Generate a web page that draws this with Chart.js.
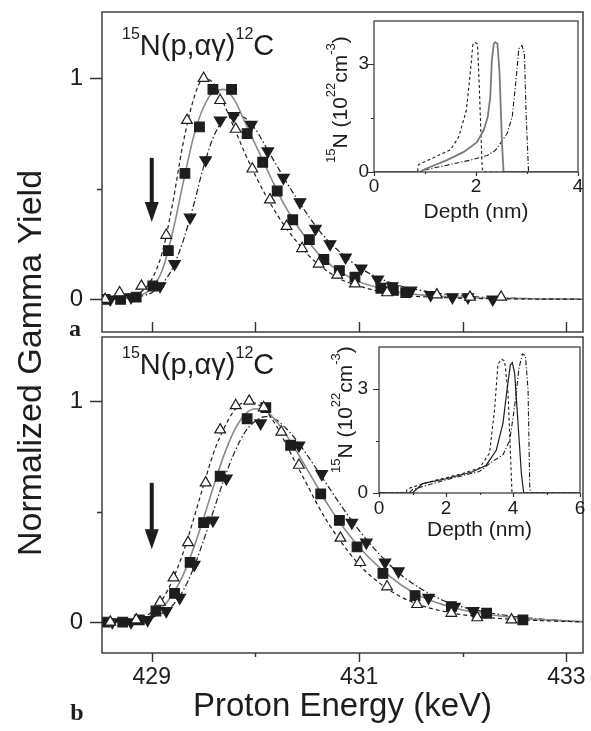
<!DOCTYPE html>
<html>
<head>
<meta charset="utf-8">
<title>15N(p,αγ)12C gamma yield</title>
<script src="https://cdn.jsdelivr.net/npm/chart.js@4.4.1/dist/chart.umd.min.js"></script>
<style>
  html, body { margin: 0; background: #fff; }
  #wrap { position: relative; width: 591px; height: 731px; }
  #wrap canvas { position: absolute; left: 0; top: 0; }
</style>
</head>
<body>
<div id="wrap">
  <canvas id="panelB" width="591" height="731"></canvas>
  <canvas id="panelA" width="591" height="731"></canvas>
  <canvas id="insetA" width="591" height="731"></canvas>
  <canvas id="insetB" width="591" height="731"></canvas>
</div>
<script>
// ---- values ----

// proton energy grid of the fitted curves (keV)
const fitX = [428.5, 428.7, 428.8, 428.9, 429.0, 429.1, 429.2, 429.3, 429.4, 429.5, 429.6, 429.7, 429.8, 429.9, 430.0, 430.1,
  430.2, 430.3, 430.4, 430.5, 430.6, 430.7, 430.8, 431.0, 431.2, 431.4, 431.6, 431.8, 432.0, 432.5, 433.2];

// panel a : fitted curves
const fitDashA = [0, 0.005, 0.015, 0.035, 0.09, 0.21, 0.43, 0.70, 0.90, 1.0, 0.975, 0.88, 0.77, 0.66, 0.56, 0.47,
  0.39, 0.32, 0.26, 0.205, 0.16, 0.125, 0.095, 0.06, 0.035, 0.02, 0.012, 0.008, 0.005, 0.002, 0];
const fitSolidA = [0, 0.003, 0.008, 0.02, 0.05, 0.13, 0.30, 0.52, 0.73, 0.87, 0.94, 0.95, 0.90, 0.80, 0.70, 0.60,
  0.50, 0.41, 0.335, 0.27, 0.21, 0.165, 0.13, 0.08, 0.05, 0.03, 0.02, 0.013, 0.008, 0.003, 0];
const fitDotA = [0, 0.003, 0.007, 0.015, 0.03, 0.07, 0.14, 0.26, 0.42, 0.60, 0.74, 0.815, 0.835, 0.82, 0.77, 0.69,
  0.61, 0.53, 0.455, 0.385, 0.32, 0.265, 0.22, 0.145, 0.095, 0.06, 0.04, 0.025, 0.015, 0.005, 0];

// panel a : measured points
const triAX = [428.55, 428.69, 428.9, 429.14, 429.34, 429.50, 429.66, 429.81, 429.97, 430.14, 430.30, 430.45, 430.61, 430.79, 430.96, 431.27, 431.75, 432.07, 432.37];
const triAY = [0.0, 0.03, 0.06, 0.29, 0.81, 1.0, 0.90, 0.77, 0.59, 0.45, 0.33, 0.23, 0.16, 0.11, 0.07, 0.03, 0.02, 0.01, 0.01];
const sqAX = [428.55, 428.7, 428.85, 429.01, 429.16, 429.32, 429.46, 429.59, 429.77, 429.92, 430.07, 430.21, 430.36, 430.52, 430.66, 430.81, 430.96, 431.21, 431.33, 431.45];
const sqAY = [0.0, 0.0, 0.01, 0.06, 0.22, 0.57, 0.78, 0.95, 0.95, 0.75, 0.62, 0.49, 0.36, 0.27, 0.18, 0.13, 0.10, 0.05, 0.04, 0.03];
const dnAX = [428.6, 428.8, 429.08, 429.22, 429.37, 429.52, 429.66, 429.79, 429.96, 430.12, 430.27, 430.43, 430.58, 430.72, 430.87, 431.02, 431.18, 431.32, 431.5, 431.69, 431.9, 432.05, 432.29];
const dnAY = [0.0, 0.01, 0.06, 0.16, 0.37, 0.63, 0.81, 0.83, 0.79, 0.67, 0.55, 0.44, 0.32, 0.25, 0.19, 0.14, 0.09, 0.06, 0.04, 0.02, 0.01, 0.01, 0.0];

// panel b : fitted curves
const fitDashB = [0, 0.005, 0.01, 0.02, 0.045, 0.10, 0.19, 0.31, 0.46, 0.62, 0.77, 0.88, 0.96, 0.995, 0.99, 0.955,
  0.89, 0.80, 0.71, 0.62, 0.53, 0.45, 0.38, 0.26, 0.175, 0.115, 0.075, 0.05, 0.033, 0.012, 0];
const fitSolidB = [0, 0.003, 0.007, 0.013, 0.03, 0.065, 0.125, 0.21, 0.33, 0.47, 0.62, 0.76, 0.87, 0.94, 0.965, 0.955,
  0.91, 0.845, 0.77, 0.69, 0.61, 0.53, 0.46, 0.34, 0.245, 0.17, 0.115, 0.08, 0.055, 0.02, 0];
const fitDotB = [0, 0.002, 0.005, 0.01, 0.02, 0.04, 0.075, 0.14, 0.24, 0.37, 0.51, 0.65, 0.77, 0.86, 0.91, 0.93,
  0.915, 0.875, 0.82, 0.755, 0.685, 0.615, 0.545, 0.415, 0.305, 0.215, 0.15, 0.10, 0.068, 0.025, 0];

// panel b : measured points
const triBX = [428.6, 428.85, 429.08, 429.21, 429.35, 429.52, 429.66, 429.81, 429.94, 430.08, 430.25, 430.42, 430.82, 431.01, 431.27, 431.56, 431.89, 432.14, 432.47];
const triBY = [0.0, 0.01, 0.09, 0.20, 0.36, 0.63, 0.87, 0.98, 1.0, 0.97, 0.86, 0.71, 0.38, 0.27, 0.16, 0.08, 0.04, 0.02, 0.01];
const sqBX = [428.55, 428.72, 428.88, 429.04, 429.22, 429.37, 429.50, 429.66, 429.92, 430.10, 430.34, 430.63, 430.81, 430.98, 431.23, 431.54, 431.89, 432.23, 432.58];
const sqBY = [0.0, 0.0, 0.01, 0.05, 0.13, 0.27, 0.45, 0.66, 0.92, 0.97, 0.80, 0.58, 0.46, 0.34, 0.22, 0.12, 0.07, 0.04, 0.01];
const dnBX = [428.62, 428.8, 428.96, 429.14, 429.27, 429.41, 429.59, 429.72, 430.05, 430.42, 430.64, 430.93, 431.07, 431.25, 431.38, 431.67, 431.92, 432.1];
const dnBY = [0.0, 0.0, 0.01, 0.05, 0.11, 0.26, 0.46, 0.65, 0.90, 0.80, 0.67, 0.45, 0.36, 0.27, 0.23, 0.11, 0.07, 0.05];

// inset a : 15N depth profiles (depth nm, 10^22 cm^-3)
const inASolidX = [0, 0.9, 1.0, 1.1, 1.43, 1.76, 2.02, 2.15, 2.23, 2.28, 2.31, 2.35, 2.38, 2.42, 2.46, 2.51, 2.54, 4.0];
const inASolidY = [0, 0, 0.08, 0.14, 0.33, 0.56, 0.83, 1.16, 1.53, 2.08, 3.10, 3.57, 3.61, 3.57, 2.8, 0.79, 0, 0];
const inADashX = [0, 0.85, 0.88, 1.20, 1.50, 1.66, 1.81, 1.88, 1.94, 1.99, 2.03, 2.07, 2.12, 2.14, 4.0];
const inADashY = [0, 0, 0.21, 0.42, 0.62, 0.97, 1.71, 2.64, 3.56, 3.60, 3.56, 2.17, 0.13, 0, 0];
const inADotX = [0, 0.9, 0.97, 1.43, 1.89, 2.22, 2.38, 2.61, 2.71, 2.79, 2.84, 2.90, 2.95, 2.98, 3.03, 4.0];
const inADotY = [0, 0, 0.05, 0.19, 0.33, 0.46, 0.60, 1.07, 1.53, 2.64, 3.43, 3.52, 3.29, 1.71, 0, 0];

// inset b
const inBSolidX = [0, 1.0, 1.3, 2.0, 2.8, 3.2, 3.5, 3.7, 3.82, 3.92, 3.98, 4.05, 4.15, 4.25, 4.32, 6];
const inBSolidY = [0, 0, 0.27, 0.41, 0.61, 0.80, 1.23, 2.0, 2.96, 3.68, 3.75, 3.44, 2.0, 0.56, 0, 0];
const inBDashX = [0, 0.8, 0.85, 1.5, 2.5, 3.0, 3.3, 3.45, 3.55, 3.65, 3.75, 3.85, 3.93, 3.97, 6];
const inBDashY = [0, 0, 0.12, 0.32, 0.56, 0.72, 1.15, 2.4, 3.7, 3.85, 3.8, 2.9, 1.0, 0, 0];
const inBDotX = [0, 0.9, 1.0, 2.0, 3.0, 3.3, 3.7, 3.9, 4.05, 4.18, 4.28, 4.37, 4.45, 4.5, 4.52, 6];
const inBDotY = [0, 0, 0.1, 0.38, 0.62, 0.85, 1.1, 1.5, 2.5, 3.6, 4.0, 3.96, 2.96, 0.17, 0, 0];

// ticks
const energyTicks = [429, 430, 431, 432, 433];
const energyText = ['429', '', '431', '', '433'];
const yieldTicks = [0, 0.5, 1];
const yieldText = ['0', '', '1'];
const depthTicksA = [0, 1, 2, 3, 4];
const depthTextA = ['0', '', '2', '', '4'];
const depthTicksB = [0, 1, 2, 3, 4, 5, 6];
const depthTextB = ['0', '', '2', '', '4', '', '6'];
const densTicks = [0, 1.5, 3];
const densText = ['0', '', '3'];

// ---- drawing ----
const FONT = '"Liberation Sans", Arial, Helvetica, sans-serif';
const SERIF = '"Liberation Serif", "DejaVu Serif", serif';
const INK = '#1d1d1d';

const pts = (xs, ys) => xs.map((x, i) => ({ x: x, y: ys[i] }));
// fixed axis sizes; drop the label overhang padding so the plot box lands where it should
const fixWidth = w => s => { s.width = w; s.paddingTop = 0; s.paddingBottom = 0; };
const fixHeight = h => s => { s.height = h; s.paddingLeft = 0; s.paddingRight = 0; };
const setTicks = vals => s => { s.ticks = vals.map(v => ({ value: v })); };

function drawRich(ctx, t) {
  ctx.save();
  ctx.translate(t.x, t.y);
  if (t.rot) ctx.rotate(t.rot);
  ctx.fillStyle = INK;
  ctx.textBaseline = 'alphabetic';
  ctx.textAlign = 'left';
  const font = sup => (t.weight || 'normal') + ' ' + (sup ? t.sup : t.size) + 'px ' + (t.family || FONT);
  let total = 0;
  t.parts.forEach(p => { ctx.font = font(p[1]); total += ctx.measureText(p[0]).width; });
  let cx = t.align === 'center' ? -total / 2 : 0;
  t.parts.forEach(p => {
    ctx.font = font(p[1]);
    ctx.fillText(p[0], cx, p[1] ? -t.size * 0.55 : 0);
    cx += ctx.measureText(p[0]).width;
  });
  ctx.restore();
}

// frame box + hand drawn tick marks (len > 0 outward, < 0 inward)
function framePlugin(o) {
  return {
    id: 'frame',
    afterDatasetsDraw(chart) {
      const { ctx, chartArea: a } = chart;
      const { x, y } = chart.scales;
      ctx.save();
      ctx.strokeStyle = '#333';
      ctx.lineWidth = o.width;
      ctx.strokeRect(a.left, a.top, a.right - a.left, a.bottom - a.top);
      ctx.beginPath();
      x.ticks.forEach(t => {
        const len = t.label !== '' ? o.xLen[0] : o.xLen[1];
        const px = Math.round(x.getPixelForValue(t.value)) + 0.5;
        ctx.moveTo(px, a.bottom);
        ctx.lineTo(px, a.bottom + len);
      });
      y.ticks.forEach(t => {
        const len = t.label !== '' ? o.yLen[0] : o.yLen[1];
        const py = Math.round(y.getPixelForValue(t.value)) + 0.5;
        ctx.moveTo(a.left, py);
        ctx.lineTo(a.left - len, py);
      });
      ctx.stroke();
      ctx.restore();
    }
  };
}

function notesPlugin(texts, arrow) {
  return {
    id: 'notes',
    afterDraw(chart) {
      const ctx = chart.ctx;
      texts.forEach(t => drawRich(ctx, t));
      if (!arrow) return;
      const { x, y } = chart.scales;
      const px = x.getPixelForValue(arrow.x);
      const top = y.getPixelForValue(arrow.from);
      const tip = y.getPixelForValue(arrow.to);
      ctx.save();
      ctx.fillStyle = INK;
      ctx.fillRect(px - 2, top, 4, tip - top - 18);
      ctx.beginPath();
      ctx.moveTo(px - 7, tip - 20);
      ctx.lineTo(px + 7, tip - 20);
      ctx.lineTo(px, tip);
      ctx.closePath();
      ctx.fill();
      ctx.restore();
    }
  };
}

function fitLine(xs, ys, style) {
  return Object.assign({
    data: pts(xs, ys), showLine: true, pointRadius: 0, fill: false,
    cubicInterpolationMode: 'monotone', borderColor: INK, borderWidth: 1.2
  }, style);
}

function markers(xs, ys, style) {
  return Object.assign({
    data: pts(xs, ys), showLine: false, pointRadius: 6,
    pointBorderColor: INK, pointBorderWidth: 1.2
  }, style);
}

const titleParts = [['15', true], ['N(p,αγ)', false], ['12', true], ['C', false]];
const densParts = [['15', true], ['N (10', false], ['22', true], ['cm', false], ['-3', true], [')', false]];

function mainPanel(id, o) {
  return new Chart(document.getElementById(id), {
    type: 'scatter',
    data: {
      datasets: [
        markers(o.triX, o.triY, { pointStyle: 'triangle', pointRadius: 6.2, pointBackgroundColor: '#fff' }),
        markers(o.sqX, o.sqY, { pointStyle: 'rect', pointRadius: 6.8, pointBackgroundColor: INK }),
        markers(o.dnX, o.dnY, { pointStyle: 'triangle', pointRotation: 180, pointRadius: 6.6, pointBackgroundColor: INK }),
        fitLine(fitX, o.dash, { borderDash: [4, 3] }),
        fitLine(fitX, o.solid, { borderColor: '#8a8a8a', borderWidth: 1.6 }),
        fitLine(fitX, o.dot, { borderDash: [6, 2.5, 1.5, 2.5] })
      ]
    },
    options: {
      responsive: false,
      animation: false,
      events: [],
      layout: { padding: o.pad },
      plugins: { legend: { display: false }, tooltip: { enabled: false } },
      scales: {
        x: {
          type: 'linear', min: 428.52, max: 433.16,
          afterFit: fixHeight(o.xHeight),
          afterBuildTicks: setTicks(energyTicks),
          grid: { display: false, drawTicks: false }, border: { display: false },
          ticks: {
            display: o.xLabels, autoSkip: false, maxRotation: 0,
            callback: (v, i) => energyText[i],
            font: { family: FONT, size: 23 }, color: INK, padding: 11
          },
          title: {
            display: o.xLabels, text: 'Proton Energy (keV)',
            font: { family: FONT, size: 33 }, color: INK, padding: { top: 0, bottom: 4 }
          }
        },
        y: {
          type: 'linear', min: o.yMin, max: o.yMax,
          afterFit: fixWidth(102),
          afterBuildTicks: setTicks(yieldTicks),
          grid: { display: false, drawTicks: false }, border: { display: false },
          ticks: {
            autoSkip: false, callback: (v, i) => yieldText[i],
            font: { family: FONT, size: 24 }, color: INK, padding: 19
          }
        }
      }
    },
    plugins: [framePlugin({ width: 1.4, xLen: o.xLen, yLen: [12, 5] }), notesPlugin(o.texts, o.arrow)]
  });
}

function insetPanel(id, o) {
  const line = (xs, ys, style) => Object.assign({
    data: pts(xs, ys), showLine: true, pointRadius: 0, fill: false, tension: 0,
    borderColor: INK, borderWidth: 1.1
  }, style);
  return new Chart(document.getElementById(id), {
    type: 'scatter',
    data: {
      datasets: [
        line(o.solidX, o.solidY, { borderColor: o.solidColor, borderWidth: o.solidWidth }),
        line(o.dashX, o.dashY, { borderDash: [3, 2.5] }),
        line(o.dotX, o.dotY, { borderDash: [5, 2, 1.2, 2] })
      ]
    },
    options: {
      responsive: false,
      animation: false,
      events: [],
      layout: { padding: o.pad },
      plugins: { legend: { display: false }, tooltip: { enabled: false } },
      scales: {
        x: {
          type: 'linear', min: 0, max: o.xMax,
          afterFit: fixHeight(60),
          afterBuildTicks: setTicks(o.xTicks),
          grid: { display: false, drawTicks: false }, border: { display: false },
          ticks: {
            autoSkip: false, maxRotation: 0, callback: (v, i) => o.xText[i],
            font: { family: FONT, size: 19 }, color: INK, padding: o.xPad
          },
          title: {
            display: true, text: 'Depth (nm)',
            font: { family: FONT, size: 21 }, color: INK, padding: { top: 0, bottom: o.titlePad }
          }
        },
        y: {
          type: 'linear', min: 0, max: 4.2,
          afterFit: fixWidth(40),
          afterBuildTicks: setTicks(densTicks),
          grid: { display: false, drawTicks: false }, border: { display: false },
          ticks: {
            autoSkip: false, callback: (v, i) => densText[i],
            font: { family: FONT, size: 19 }, color: INK, padding: o.yPad
          }
        }
      }
    },
    plugins: [framePlugin({ width: 1.2, xLen: [4, 2], yLen: [6, 3] }), notesPlugin(o.texts, null)]
  });
}

mainPanel('panelA', {
  pad: { left: 0, top: 12, right: 8, bottom: 391 }, xHeight: 8, xLabels: false,
  yMin: -0.148, yMax: 1.30, xLen: [-10, -10],
  triX: triAX, triY: triAY, sqX: sqAX, sqY: sqAY, dnX: dnAX, dnY: dnAY,
  dash: fitDashA, solid: fitSolidA, dot: fitDotA,
  arrow: { x: 429.0, from: 0.64, to: 0.35 },
  texts: [
    { parts: titleParts, x: 122, y: 55, size: 29, sup: 16 },
    { parts: [['a', false]], x: 75, y: 336, size: 24, weight: 'bold', family: SERIF, align: 'center' }
  ]
});

mainPanel('panelB', {
  pad: { left: 0, top: 337, right: 8, bottom: 0 }, xHeight: 78, xLabels: true,
  yMin: -0.14, yMax: 1.29, xLen: [9, 4],
  triX: triBX, triY: triBY, sqX: sqBX, sqY: sqBY, dnX: dnBX, dnY: dnBY,
  dash: fitDashB, solid: fitSolidB, dot: fitDotB,
  arrow: { x: 429.0, from: 0.63, to: 0.33 },
  texts: [
    { parts: titleParts, x: 122, y: 374, size: 29, sup: 16 },
    { parts: [['b', false]], x: 77, y: 720, size: 24, weight: 'bold', family: SERIF, align: 'center' },
    { parts: [['Normalized Gamma Yield', false]], x: 41, y: 363, size: 34, rot: -Math.PI / 2, align: 'center' }
  ]
});

insetPanel('insetA', {
  pad: { left: 334, top: 21, right: 13, bottom: 499 }, xMax: 4,
  xTicks: depthTicksA, xText: depthTextA, xPad: 3, yPad: 5, titlePad: 7,
  solidX: inASolidX, solidY: inASolidY, solidColor: '#7a7a7a', solidWidth: 1.8,
  dashX: inADashX, dashY: inADashY, dotX: inADotX, dotY: inADotY,
  texts: [{ parts: densParts, x: 347, y: 163, size: 21, sup: 13, rot: -Math.PI / 2 }]
});

insetPanel('insetB', {
  pad: { left: 339, top: 347, right: 11, bottom: 178 }, xMax: 6,
  xTicks: depthTicksB, xText: depthTextB, xPad: 4, yPad: 11, titlePad: 10,
  solidX: inBSolidX, solidY: inBSolidY, solidColor: INK, solidWidth: 1.2,
  dashX: inBDashX, dashY: inBDashY, dotX: inBDotX, dotY: inBDotY,
  texts: [{ parts: densParts, x: 352, y: 473, size: 21, sup: 13, rot: -Math.PI / 2 }]
});
</script>
</body>
</html>
